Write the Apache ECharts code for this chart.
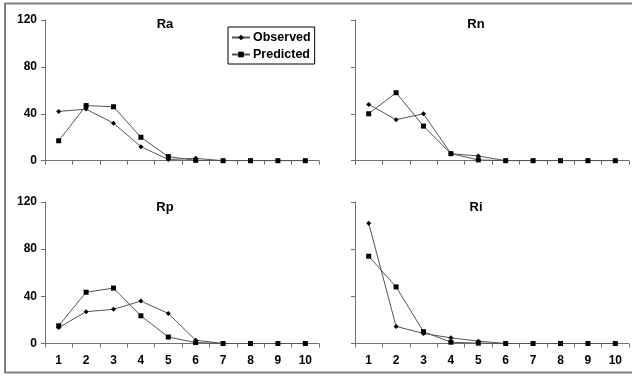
<!DOCTYPE html>
<html><head><meta charset="utf-8">
<script src="https://cdn.jsdelivr.net/npm/echarts@6/dist/echarts.min.js"></script>
<style>html,body{margin:0;padding:0;background:#fff}#c{width:632px;height:376px}</style>
</head><body><div id="c"></div>
<script>
const categories = ['1','2','3','4','5','6','7','8','9','10'];
const yTicks = [0, 40, 80, 120];
const panelNames = ['Ra','Rn','Rp','Ri'];
const raObserved = [42, 44, 32, 12, 1, 2, 0, 0, 0, 0];
const raPredicted = [17, 47, 46, 20, 3.5, 0.3, 0, 0, 0, 0];
const rnObserved = [48, 35, 40, 6, 4, 0, 0, 0, 0, 0];
const rnPredicted = [40, 58, 29.5, 6, 0.7, 0, 0, 0, 0, 0];
const rpObserved = [13.5, 27, 29, 36, 25.5, 2.8, 0, 0, 0, 0];
const rpPredicted = [15, 43.5, 47, 23.5, 5.5, 0.8, 0, 0, 0, 0];
const riObserved = [102, 14.5, 8.5, 4.8, 2, 0, 0, 0, 0, 0];
const riPredicted = [74, 48, 10, 1.1, 0.3, 0, 0, 0, 0, 0];

const observedSets = [raObserved, rnObserved, rpObserved, riObserved];
const predictedSets = [raPredicted, rnPredicted, rpPredicted, riPredicted];

const FONT = '"Liberation Sans", Arial, sans-serif';
const grids = [
  {left: 45, top: 20, width: 274, height: 140.7},
  {left: 355, top: 20, width: 274, height: 140.7},
  {left: 45, top: 202, width: 274, height: 141.5},
  {left: 355, top: 202, width: 274, height: 141.5}
];
const titlePos = [[165, 24], [476, 24], [165, 207], [476, 207]];

const xAxes = grids.map((g, i) => ({
  type: 'category', gridIndex: i, data: categories, boundaryGap: true,
  axisLine: {lineStyle: {color: '#707070', width: 1}},
  axisTick: {show: true, length: 4, inside: false, alignWithLabel: false, lineStyle: {color: '#707070'}},
  axisLabel: {show: i >= 2, color: '#000', fontFamily: FONT, fontWeight: 'bold', fontSize: 12, margin: 11},
  splitLine: {show: false}
}));
const yAxes = grids.map((g, i) => ({
  type: 'value', gridIndex: i, min: yTicks[0], max: yTicks[yTicks.length - 1], interval: yTicks[1] - yTicks[0],
  axisLine: {show: true, lineStyle: {color: '#707070', width: 1}},
  axisTick: {show: true, length: 4, lineStyle: {color: '#707070'}},
  axisLabel: {show: i % 2 === 0, color: '#000', fontFamily: FONT, fontWeight: 'bold', fontSize: 12, margin: 8},
  splitLine: {show: false}
}));

const series = [];
for (let i = 0; i < 4; i++) {
  series.push({
    name: 'Observed', type: 'line', xAxisIndex: i, yAxisIndex: i, data: observedSets[i],
    symbol: 'diamond', symbolSize: 5, showAllSymbol: true,
    lineStyle: {color: '#555', width: 1}, itemStyle: {color: '#000'}, animation: false, z: 3
  });
  series.push({
    name: 'Predicted', type: 'line', xAxisIndex: i, yAxisIndex: i, data: predictedSets[i],
    symbol: 'rect', symbolSize: 5, showAllSymbol: true,
    lineStyle: {color: '#555', width: 1}, itemStyle: {color: '#000'}, animation: false, z: 4
  });
}

const graphics = [{
  type: 'rect', shape: {x: 5, y: 3.5, width: 640, height: 369},
  style: {fill: 'none', stroke: '#808080', lineWidth: 2}, silent: true
}];
panelNames.forEach((n, i) => graphics.push({
  type: 'text', x: titlePos[i][0], y: titlePos[i][1],
  style: {text: n, fontFamily: FONT, fontWeight: 'bold', fontSize: 13, fill: '#000', textAlign: 'center', textVerticalAlign: 'middle'}
}));

const chart = echarts.init(document.getElementById('c'), null, {renderer: 'canvas'});
chart.setOption({
  animation: false,
  backgroundColor: '#fff',
  grid: grids,
  xAxis: xAxes,
  yAxis: yAxes,
  legend: {
    data: ['Observed', 'Predicted'], orient: 'vertical', left: 228, top: 27,
    borderColor: '#000', borderWidth: 1, padding: [4, 4, 3, 3], itemGap: 4,
    itemWidth: 18, itemHeight: 7, selectedMode: false,
    textStyle: {fontFamily: FONT, fontWeight: 'bold', fontSize: 12.5, color: '#000', padding: [0, 0, 0, -2]}
  },
  graphic: graphics,
  series: series
});
</script></body></html>
